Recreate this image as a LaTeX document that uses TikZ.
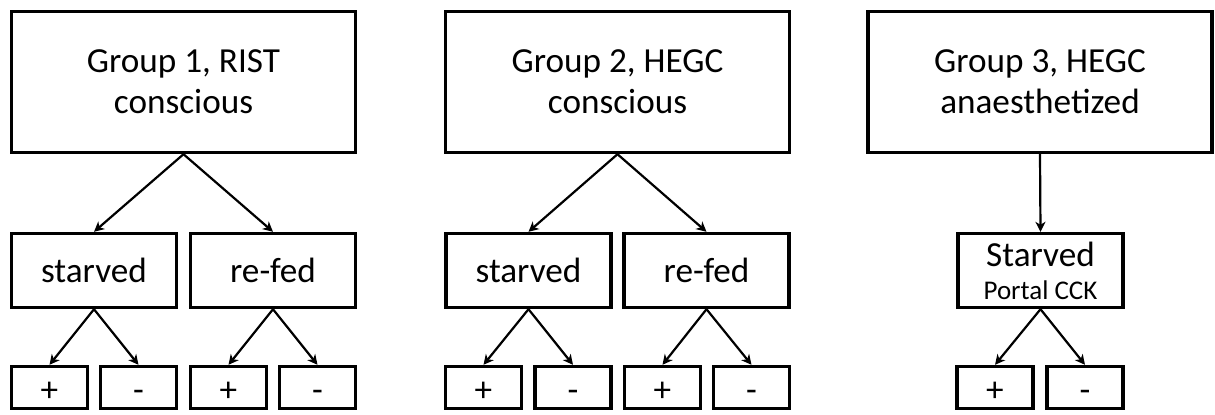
\documentclass[tikz,border=0pt]{standalone}
\usepackage{fontspec}
\setmainfont{Carlito}
\usetikzlibrary{arrows.meta}

\tikzset{
  groupbox/.style={draw, line width=1.7pt, minimum width=172pt, minimum height=70.5pt, align=center, font=\fontsize{17.6}{20.5}\selectfont},
  feedbox/.style={draw, line width=1.7pt, minimum width=82.5pt, minimum height=37pt, align=center, font=\fontsize{17.6}{20.5}\selectfont},
  signbox/.style={draw, line width=1.7pt, minimum width=38pt, minimum height=21pt, text height=14pt, text depth=0pt, inner ysep=0pt, font=\fontsize{17.6}{20.5}\selectfont},
}

\begin{document}
\begin{tikzpicture}[x=0.5pt, y=-0.5pt, ->, >={Stealth[length=5pt,width=5pt,inset=1.5pt]}, line width=1.1pt]
			\useasboundingbox (0,0) rectangle (1215,414);

			\node[groupbox] (g1) at (183.5,82) {Group 1, RIST\\conscious};
			\node[groupbox] (g2) at (617.5,82) {Group 2, HEGC\\conscious};
			\node[groupbox] (g3) at (1040,82) {Group 3, HEGC\\anaesthetized};

			\node[feedbox] (s1) at (94,270.5) {starved};
			\node[feedbox] (r1) at (273,270.5) {re-fed};
			\node[feedbox] (s2) at (528.5,270.5) {starved};
			\node[feedbox] (r2) at (706.5,270.5) {re-fed};
			\node[feedbox] (s3) at (1040.5,270.5) {Starved\\[-4pt]{\fontsize{13.5}{15}\selectfont Portal CCK}};

			\node[signbox] (s1p) at (49.5,387.5) {+};
			\node[signbox] (s1m) at (138.5,387.5) {-};
			\node[signbox] (r1p) at (228.5,387.5) {+};
			\node[signbox] (r1m) at (317.5,387.5) {-};
			\node[signbox] (s2p) at (483.5,387.5) {+};
			\node[signbox] (s2m) at (573,387.5) {-};
			\node[signbox] (r2p) at (662.5,387.5) {+};
			\node[signbox] (r2m) at (751.5,387.5) {-};
			\node[signbox] (s3p) at (995,387.5) {+};
			\node[signbox] (s3m) at (1085,387.5) {-};

			\path
			(g1.south) edge (s1.north)
			(g1.south) edge (r1.north)
			(g2.south) edge (s2.north)
			(g2.south) edge (r2.north)
			(g3.south) edge (s3.north)
			(s1.south) edge (s1p.north)
			(s1.south) edge (s1m.north)
			(r1.south) edge (r1p.north)
			(r1.south) edge (r1m.north)
			(s2.south) edge (s2p.north)
			(s2.south) edge (s2m.north)
			(r2.south) edge (r2p.north)
			(r2.south) edge (r2m.north)
			(s3.south) edge (s3p.north)
			(s3.south) edge (s3m.north);
		\end{tikzpicture}
\end{document}
